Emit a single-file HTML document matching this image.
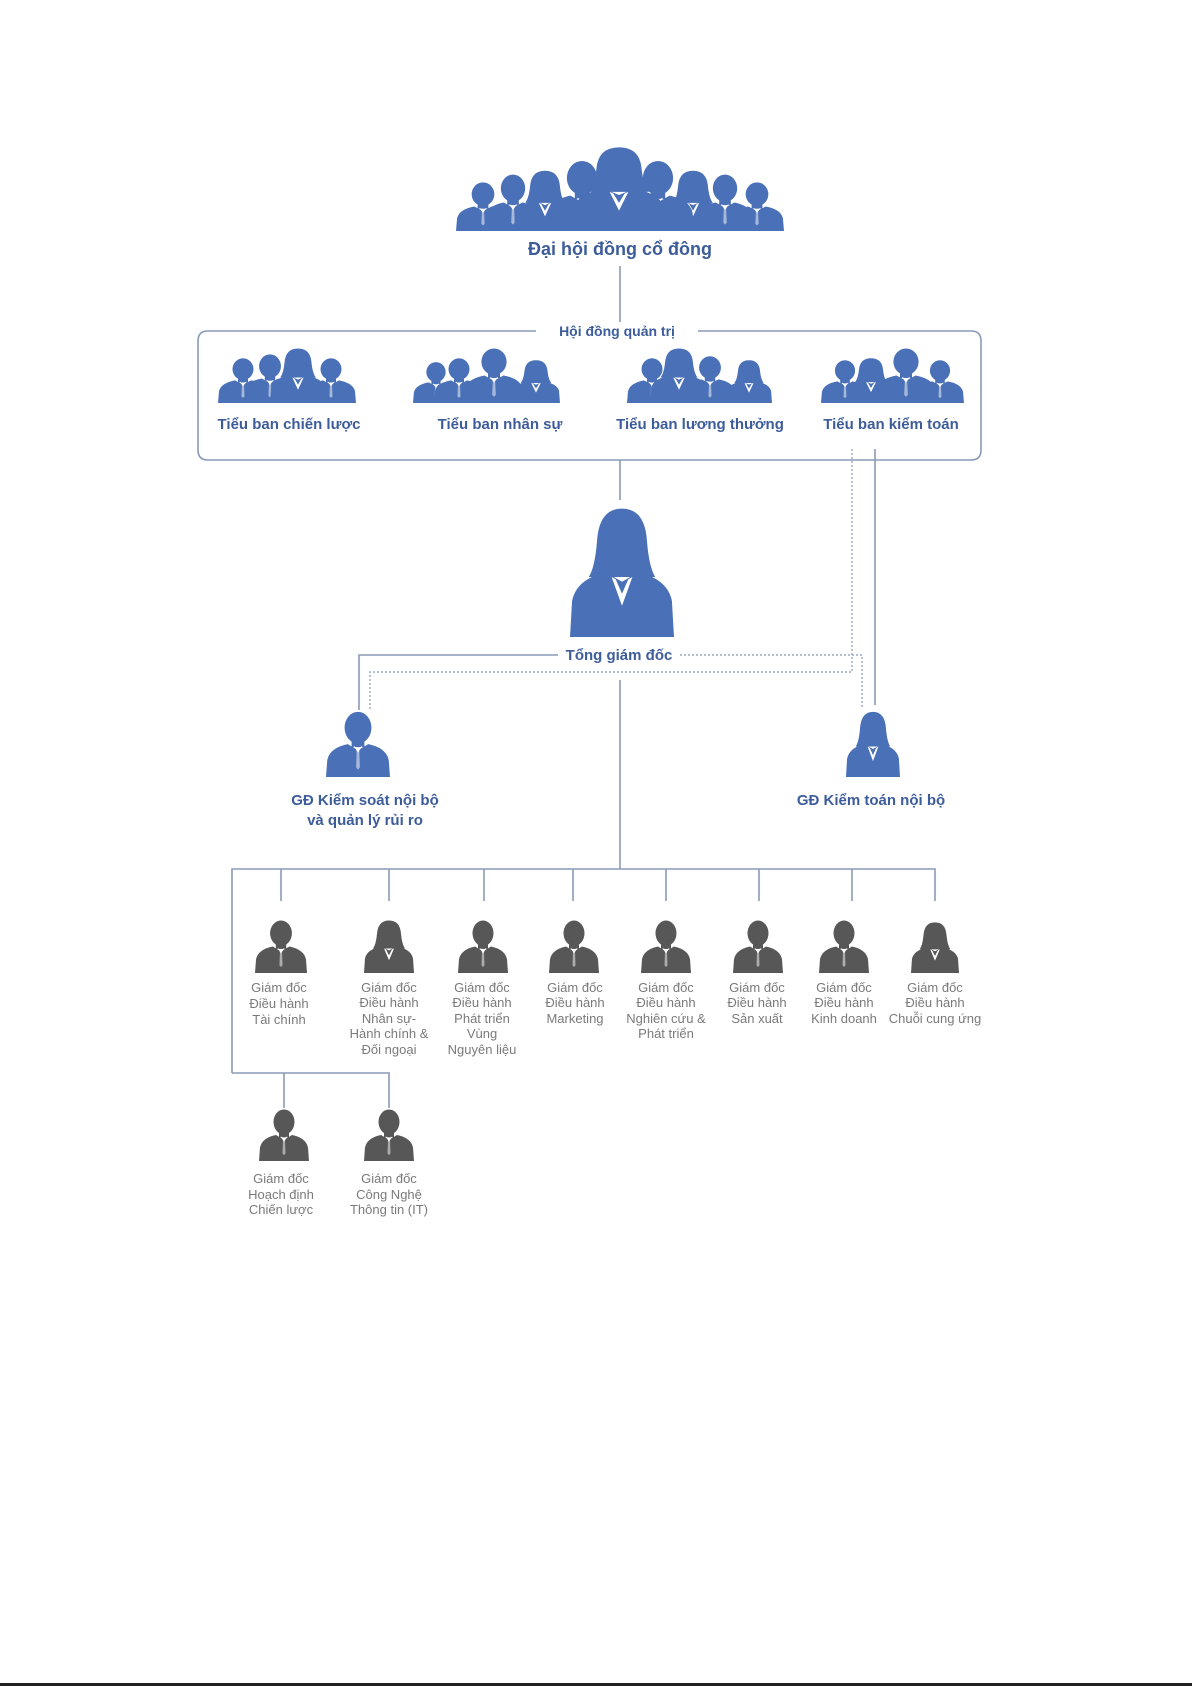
<!DOCTYPE html>
<html><head><meta charset="utf-8">
<style>
html,body{margin:0;padding:0;background:#fff;}
svg{display:block;}
.b{font-family:"Liberation Sans",sans-serif;font-weight:bold;fill:#3d5c9a;text-anchor:middle;}
.g{font-family:"Liberation Sans",sans-serif;fill:#7a7a7a;text-anchor:middle;font-size:13px;}
</style></head><body>
<svg width="1192" height="1686" viewBox="0 0 1192 1686" xmlns="http://www.w3.org/2000/svg">
<defs>
<symbol id="m" viewBox="0 0 100 110" preserveAspectRatio="none">
 <ellipse cx="50" cy="29" rx="21" ry="26"/>
 <rect x="40" y="45" width="20" height="16"/>
 <path d="M0 110 L2 82 Q6 62 34 56 L50 66 L66 56 Q94 62 98 82 L100 110Z"/>
 <path d="M43 59 L50 70 L57 59 L53 61 L50 65 L47 61Z" fill="#fff"/>
 <path d="M48 67 L52 67 L53 94 L50 98 L47 94Z" fill="#fff" opacity="0.5"/>
</symbol>
<symbol id="f" viewBox="0 0 100 110" preserveAspectRatio="none">
 <path d="M50 3 Q72 3 74 30 Q76 52 82 60 L18 60 Q24 52 26 30 Q28 3 50 3Z"/>
 <path d="M0 110 L2 80 Q6 62 34 56 L50 64 L66 56 Q94 62 98 80 L100 110Z"/>
 <path d="M40 60 L50 84 L60 60 L56 62 L50 74 L44 62Z" fill="#fff"/>
</symbol>
</defs>

<g fill="#4a70b8">
 <use href="#m" x="456" y="181" width="54" height="50"/>
 <use href="#m" x="484" y="173" width="58" height="58"/>
 <use href="#f" x="514" y="169" width="62" height="62"/>
 <use href="#m" x="546" y="159" width="72" height="72"/>
 <use href="#m" x="730" y="181" width="54" height="50"/>
 <use href="#m" x="696" y="173" width="58" height="58"/>
 <use href="#f" x="662" y="169" width="62" height="62"/>
 <use href="#m" x="622" y="159" width="72" height="72"/>
 <use href="#f" x="572" y="145" width="94" height="86"/>

 <use href="#m" x="218" y="357" width="50" height="46"/>
 <use href="#m" x="244" y="353" width="52" height="50"/>
 <use href="#m" x="306" y="357" width="50" height="46"/>
 <use href="#f" x="270" y="347" width="56" height="56"/>

 <use href="#m" x="413" y="361" width="46" height="42"/>
 <use href="#m" x="434" y="357" width="50" height="46"/>
 <use href="#f" x="512" y="359" width="48" height="44"/>
 <use href="#m" x="464" y="347" width="60" height="56"/>

 <use href="#m" x="627" y="357" width="50" height="46"/>
 <use href="#m" x="684" y="355" width="52" height="48"/>
 <use href="#f" x="726" y="359" width="46" height="44"/>
 <use href="#f" x="650" y="347" width="58" height="56"/>

 <use href="#m" x="821" y="359" width="48" height="44"/>
 <use href="#f" x="846" y="357" width="50" height="46"/>
 <use href="#m" x="916" y="359" width="48" height="44"/>
 <use href="#m" x="876" y="347" width="60" height="56"/>

 <use href="#f" x="570" y="505" width="104" height="132"/>
 <use href="#m" x="326" y="710" width="64" height="67"/>
 <use href="#f" x="846" y="710" width="54" height="67"/>
</g>

<g stroke="#8a9ab6" stroke-width="1.6" fill="none">
 <line x1="620" y1="266" x2="620" y2="322"/>
 <path d="M536 331 H208 Q198 331 198 341 V450 Q198 460 208 460 H971 Q981 460 981 450 V341 Q981 331 971 331 H698"/>
 <line x1="620" y1="460" x2="620" y2="500"/>
 <path d="M558 655 H359 V710"/>
 <line x1="875" y1="449" x2="875" y2="705"/>
 <line x1="620" y1="680" x2="620" y2="869"/>
 <path d="M232 1073 V869 H935 V901"/>
 <path d="M281 869 V901 M389 869 V901 M484 869 V901 M573 869 V901 M666 869 V901 M759 869 V901 M852 869 V901"/>
 <path d="M232 1073 H389 V1108 M284 1073 V1108"/>
</g>
<g stroke="#9aa8c2" stroke-width="1.4" fill="none" stroke-dasharray="2,2">
 <path d="M852 449 V672 H370 V710"/>
 <path d="M680 655 H862 V708"/>
</g>

<text class="b" x="620" y="255" font-size="18">Đại hội đồng cổ đông</text>
<text class="b" x="617" y="336" font-size="14">Hội đồng quản trị</text>
<text class="b" x="289" y="429" font-size="15">Tiểu ban chiến lược</text>
<text class="b" x="500" y="429" font-size="15">Tiểu ban nhân sự</text>
<text class="b" x="700" y="429" font-size="15">Tiểu ban lương thưởng</text>
<text class="b" x="891" y="429" font-size="15">Tiểu ban kiểm toán</text>
<text class="b" x="619" y="660" font-size="15">Tổng giám đốc</text>
<text class="b" x="365" y="805" font-size="15">GĐ Kiểm soát nội bộ</text>
<text class="b" x="365" y="825" font-size="15">và quản lý rủi ro</text>
<text class="b" x="871" y="805" font-size="15">GĐ Kiểm toán nội bộ</text>

<g fill="#575757">
 <use href="#m" x="255" y="919" width="52" height="54"/>
 <use href="#f" x="364" y="919" width="50" height="54"/>
 <use href="#m" x="458" y="919" width="50" height="54"/>
 <use href="#m" x="549" y="919" width="50" height="54"/>
 <use href="#m" x="641" y="919" width="50" height="54"/>
 <use href="#m" x="733" y="919" width="50" height="54"/>
 <use href="#m" x="819" y="919" width="50" height="54"/>
 <use href="#f" x="911" y="921" width="48" height="52"/>
 <use href="#m" x="259" y="1108" width="50" height="53"/>
 <use href="#m" x="364" y="1108" width="50" height="53"/>
</g>

<g class="g">
 <text x="279" y="992">Giám đốc</text><text x="279" y="1008">Điều hành</text><text x="279" y="1024">Tài chính</text>
 <text x="389" y="992">Giám đốc</text><text x="389" y="1007">Điều hành</text><text x="389" y="1023">Nhân sự-</text><text x="389" y="1038">Hành chính &amp;</text><text x="389" y="1054">Đối ngoại</text>
 <text x="482" y="992">Giám đốc</text><text x="482" y="1007">Điều hành</text><text x="482" y="1023">Phát triển</text><text x="482" y="1038">Vùng</text><text x="482" y="1054">Nguyên liệu</text>
 <text x="575" y="992">Giám đốc</text><text x="575" y="1007">Điều hành</text><text x="575" y="1023">Marketing</text>
 <text x="666" y="992">Giám đốc</text><text x="666" y="1007">Điều hành</text><text x="666" y="1023">Nghiên cứu &amp;</text><text x="666" y="1038">Phát triển</text>
 <text x="757" y="992">Giám đốc</text><text x="757" y="1007">Điều hành</text><text x="757" y="1023">Sản xuất</text>
 <text x="844" y="992">Giám đốc</text><text x="844" y="1007">Điều hành</text><text x="844" y="1023">Kinh doanh</text>
 <text x="935" y="992">Giám đốc</text><text x="935" y="1007">Điều hành</text><text x="935" y="1023">Chuỗi cung ứng</text>
 <text x="281" y="1183">Giám đốc</text><text x="281" y="1199">Hoạch định</text><text x="281" y="1214">Chiến lược</text>
 <text x="389" y="1183">Giám đốc</text><text x="389" y="1199">Công Nghệ</text><text x="389" y="1214">Thông tin (IT)</text>
</g>
<rect x="0" y="1683" width="1192" height="3" fill="#222"/>
</svg>
</body></html>
